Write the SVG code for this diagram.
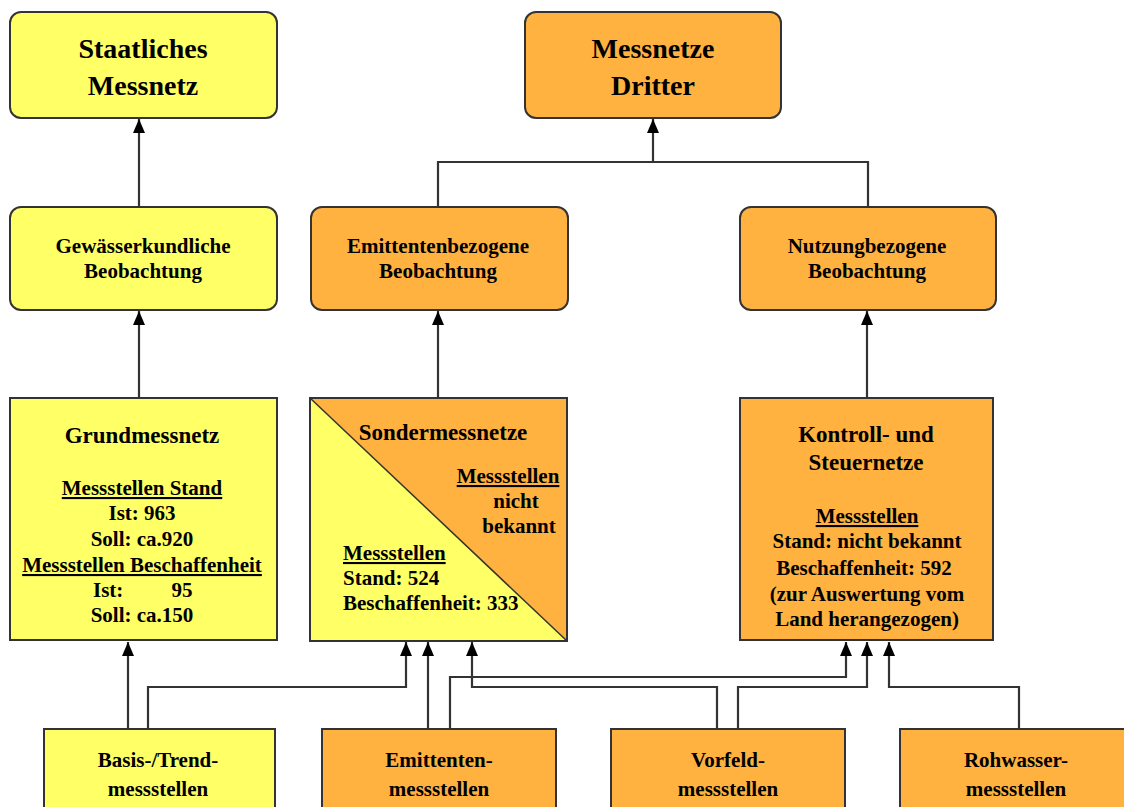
<svg xmlns="http://www.w3.org/2000/svg" width="1124" height="807" viewBox="0 0 1124 807">
<style>
.y{fill:#FFFF66;stroke:#333;stroke-width:2}
.o{fill:#FFB23F;stroke:#333;stroke-width:2}
text{font-family:"Liberation Serif","Times New Roman",serif;font-weight:bold;fill:#000;text-anchor:middle}
.t1{font-size:28px}
.t2{font-size:21px}
.t3{font-size:23px}
.u{text-decoration:underline}
.s{text-anchor:start}
.c{fill:none;stroke:#333;stroke-width:2.2;marker-end:url(#ah)}
.c2{fill:none;stroke:#333;stroke-width:2.2}
</style>
<defs>
<marker id="ah" viewBox="0 0 14 12" refX="14" refY="6" markerWidth="14" markerHeight="12" markerUnits="userSpaceOnUse" orient="auto">
<path d="M0,0 L14,6 L0,12 z" fill="#000"/>
</marker>
</defs>
<rect width="1124" height="807" fill="#fff"/>

<g id="connectors">
<path class="c" d="M139,207 V119"/>
<path class="c" d="M139,398 V311"/>
<path class="c" d="M438,398 V311"/>
<path class="c" d="M867,398 V311"/>
<path class="c2" d="M438,207 V162 H868 V207"/>
<path class="c" d="M653,162 V119"/>
<path class="c" d="M128,729 V642"/>
<path class="c" d="M148,729 V687 H406 V642"/>
<path class="c" d="M428,729 V642"/>
<path class="c" d="M450,729 V677 H846 V642"/>
<path class="c" d="M717,729 V687 H472 V642"/>
<path class="c" d="M738,729 V687 H867 V642"/>
<path class="c" d="M1019,729 V687 H889 V642"/>
</g>

<g id="staatliches">
<rect class="y" x="10" y="12" width="267" height="106" rx="11"/>
<text class="t1" x="143" y="58">Staatliches</text>
<text class="t1" x="143" y="95">Messnetz</text>
</g>
<g id="dritter">
<rect class="o" x="525" y="12" width="256" height="106" rx="11"/>
<text class="t1" x="653" y="58">Messnetze</text>
<text class="t1" x="653" y="95">Dritter</text>
</g>
<g id="gewaesser">
<rect class="y" x="10" y="207" width="267" height="103" rx="11"/>
<text class="t2" x="143" y="253">Gewässerkundliche</text>
<text class="t2" x="143" y="278">Beobachtung</text>
</g>
<g id="emittentenbezogen">
<rect class="o" x="311" y="207" width="257" height="103" rx="11"/>
<text class="t2" x="438" y="253">Emittentenbezogene</text>
<text class="t2" x="438" y="278">Beobachtung</text>
</g>
<g id="nutzung">
<rect class="o" x="740" y="207" width="256" height="103" rx="11"/>
<text class="t2" x="867" y="253">Nutzungbezogene</text>
<text class="t2" x="867" y="278">Beobachtung</text>
</g>
<g id="grundmessnetz">
<rect class="y" x="10" y="398" width="267" height="242"/>
<text class="t3" x="142" y="443">Grundmessnetz</text>
<text class="t2 u" x="142" y="495">Messstellen Stand</text>
<text class="t2" x="142" y="520">Ist: 963</text>
<text class="t2" x="142" y="546">Soll: ca.920</text>
<text class="t2 u" x="142" y="572">Messstellen Beschaffenheit</text>
<text class="t2 s" x="93" y="597">Ist:</text>
<text class="t2" x="182" y="597">95</text>
<text class="t2" x="142" y="622">Soll: ca.150</text>
</g>
<g id="sondermessnetze">
<rect class="y" x="310" y="398" width="257" height="243"/>
<path d="M310,398 L567,398 L567,641 Z" fill="#FFB23F"/>
<path d="M310,398 L567,641" stroke="#333" stroke-width="1.5"/>
<rect x="310" y="398" width="257" height="243" fill="none" stroke="#333" stroke-width="2"/>
<text class="t3" x="443" y="440">Sondermessnetze</text>
<text class="t2 u" x="508" y="483">Messstellen</text>
<text class="t2" x="516" y="508">nicht</text>
<text class="t2" x="519" y="533">bekannt</text>
<text class="t2 u s" x="343" y="560">Messstellen</text>
<text class="t2 s" x="343" y="585">Stand: 524</text>
<text class="t2 s" x="343" y="610">Beschaffenheit: 333</text>
</g>
<g id="kontroll">
<rect class="o" x="740" y="398" width="253" height="242"/>
<text class="t3" x="866" y="442">Kontroll-  und</text>
<text class="t3" x="866" y="470">Steuernetze</text>
<text class="t2 u" x="867" y="523">Messstellen</text>
<text class="t2" x="867" y="548">Stand: nicht bekannt</text>
<text class="t2" x="864" y="575">Beschaffenheit: 592</text>
<text class="t2" x="867" y="601">(zur Auswertung vom</text>
<text class="t2" x="867" y="626">Land herangezogen)</text>
</g>
<g id="basis">
<rect class="y" x="44" y="729" width="231" height="100"/>
<text class="t2" x="158" y="767">Basis-/Trend-</text>
<text class="t2" x="158" y="796">messstellen</text>
</g>
<g id="emittenten">
<rect class="o" x="322" y="729" width="234" height="100"/>
<text class="t2" x="439" y="767">Emittenten-</text>
<text class="t2" x="439" y="796">messstellen</text>
</g>
<g id="vorfeld">
<rect class="o" x="611" y="729" width="234" height="100"/>
<text class="t2" x="728" y="767">Vorfeld-</text>
<text class="t2" x="728" y="796">messstellen</text>
</g>
<g id="rohwasser">
<rect class="o" x="900" y="729" width="240" height="100"/>
<text class="t2" x="1016" y="767">Rohwasser-</text>
<text class="t2" x="1016" y="796">messstellen</text>
</g>
</svg>
